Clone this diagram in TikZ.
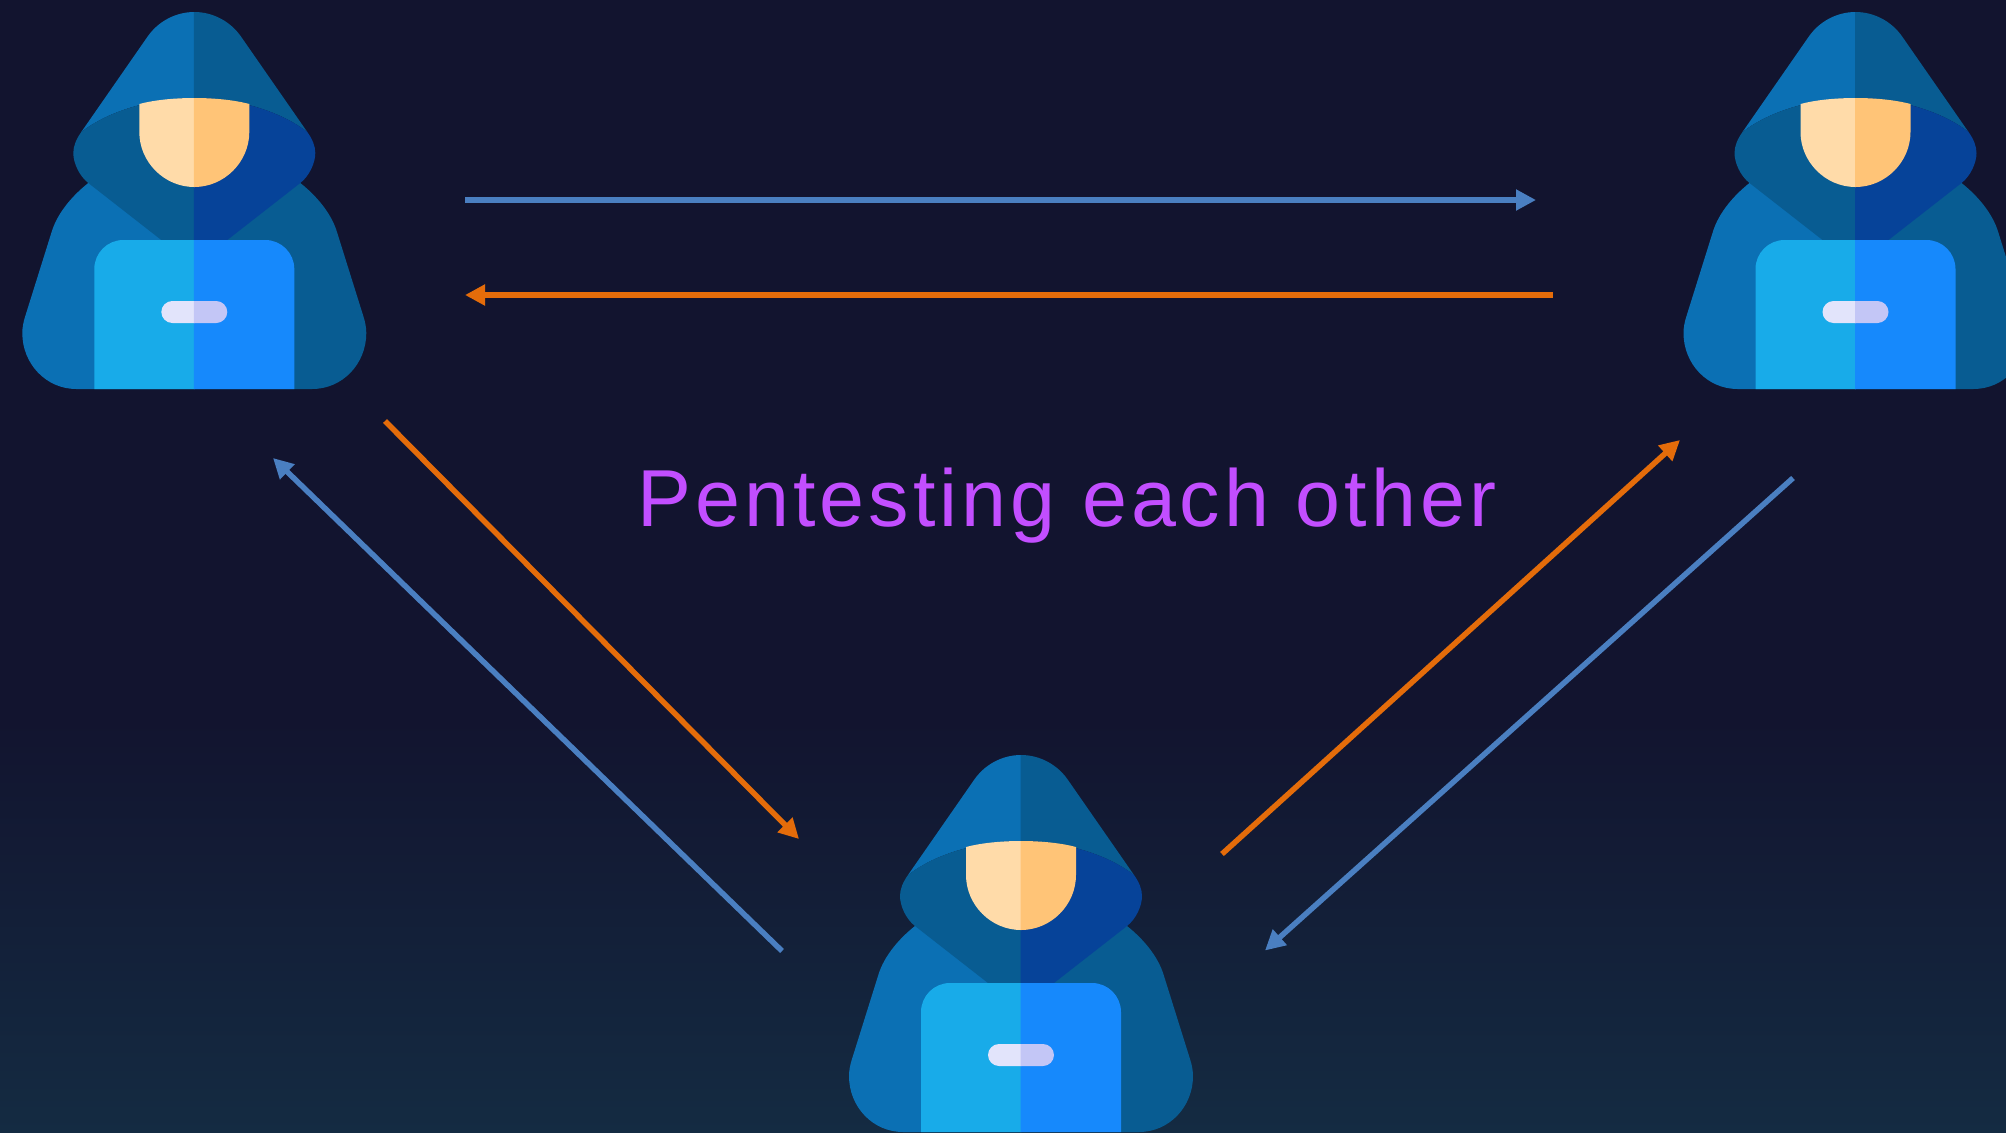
\documentclass[tikz,border=0pt]{standalone}
\usepackage{fontspec}
\usepackage{xcolor}
\usetikzlibrary{arrows.meta}
\newfontfamily\titlefont[LetterSpace=5]{Liberation Sans}
\definecolor{night}{HTML}{12142F}
\definecolor{teal}{HTML}{142B42}
\definecolor{cloakL}{HTML}{0B70B4}
\definecolor{cloakR}{HTML}{085C92}
\definecolor{hoodL}{HTML}{085C92}
\definecolor{hoodR}{HTML}{064399}
\definecolor{faceL}{HTML}{FFDBA9}
\definecolor{faceR}{HTML}{FFC477}
\definecolor{lapL}{HTML}{18ABE9}
\definecolor{lapR}{HTML}{1689FC}
\definecolor{pillL}{HTML}{E2E4FB}
\definecolor{pillR}{HTML}{C3C6F6}
\definecolor{bluearr}{HTML}{4A7FC1}
\definecolor{orangearr}{HTML}{E46C0A}
\definecolor{purp}{HTML}{C24EFF}
% one layer of the figure: left half, then right half over it
\newcommand{\hackerpart}[3]{\fill[#1,xscale=-1] #3; \fill[#2] #3;}
\tikzset{
  arr/.style={-{Triangle[length=4mm,width=4mm]},line width=1.1mm},
  bluearrow/.style={arr,draw=bluearr},
  orangearrow/.style={arr,draw=orangearr},
  titletext/.style={font=\titlefont\fontsize{46}{50}\selectfont,text=purp,inner sep=0pt},
  hacker/.pic={
    % body, hood, face, laptop
    \hackerpart{cloakL}{cloakR}{(-0.4,170) -- (106,183) .. controls (120,194) and (137,212) .. (143,233) -- (169,316) .. controls (171,322) and (172,328) .. (172,333) .. controls (172,364) and (148,389) .. (118,389) -- (-0.4,389) -- cycle}
    \hackerpart{cloakL}{cloakR}{(-0.4,12) -- (0,12) .. controls (18.8,12) and (36.4,21.5) .. (47,37) -- (113,132) .. controls (85,110) and (40,98) .. (0,98) -- (-0.4,98) -- cycle}
    \hackerpart{hoodL}{hoodR}{(-0.4,98) -- (0,98) .. controls (40,98) and (85,110) .. (113,132) .. controls (118,139) and (121,146) .. (121,153) .. controls (121,163) and (115,176) .. (106,183) -- (33,240) -- (-0.4,240) -- cycle}
    \hackerpart{faceL}{faceR}{(-0.4,98) -- (0,98) .. controls (20,98) and (40,100) .. (55,104) -- (55,132) .. controls (55,162) and (30,187) .. (0,187) -- (-0.4,187) -- cycle}
    \hackerpart{lapL}{lapR}{(-0.4,240) -- (71,240) .. controls (87,240) and (100,253) .. (100,269) -- (100,389) -- (-0.4,389) -- cycle}
    \hackerpart{pillL}{pillR}{(-0.4,301) -- (22,301) .. controls (28,301) and (33,306) .. (33,312) .. controls (33,318) and (28,323) .. (22,323) -- (-0.4,323) -- cycle}
  },
}
\begin{document}
\begin{tikzpicture}[x=0.02cm,y=-0.02cm]
  \clip (0,0) rectangle (2006,1133);
  \fill[night] (0,0) rectangle (2006,720);
  \shade[top color=night,bottom color=teal] (0,720) rectangle (2006,1133);

  \pic (hackerleft) at (194.3,0) {hacker};
  \pic (hackerright) at (1855.5,0) {hacker};
  \pic (hackerbottom) at (1021,743) {hacker};

  \node[titletext,anchor=base west] (title) at (637,526) {Pentesting each other};

  \coordinate (topbluestart) at (465,200);
  \coordinate (topblueend) at (1536,200);
  \coordinate (toporangestart) at (1552.5,295);
  \coordinate (toporangeend) at (465,295);
  \coordinate (leftorangestart) at (385,421);
  \coordinate (leftorangeend) at (799,839);
  \coordinate (leftbluestart) at (782,951);
  \coordinate (leftblueend) at (273,458);
  \coordinate (rightorangestart) at (1222,854);
  \coordinate (rightorangeend) at (1680,440);
  \coordinate (rightbluestart) at (1793,478);
  \coordinate (rightblueend) at (1265,950.5);

  \draw[bluearrow] (topbluestart) -- (topblueend);
  \draw[orangearrow] (toporangestart) -- (toporangeend);
  \draw[orangearrow] (leftorangestart) -- (leftorangeend);
  \draw[bluearrow] (leftbluestart) -- (leftblueend);
  \draw[orangearrow] (rightorangestart) -- (rightorangeend);
  \draw[bluearrow] (rightbluestart) -- (rightblueend);
\end{tikzpicture}
\end{document}
